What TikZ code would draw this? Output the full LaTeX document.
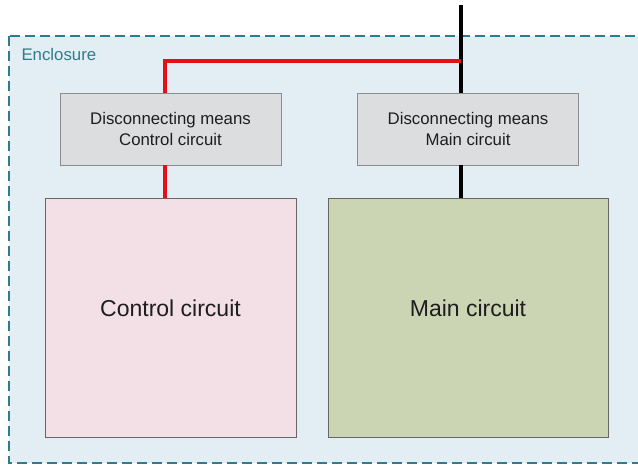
\documentclass[tikz,border=0pt]{standalone}
\usepackage{fontspec}
\setmainfont{Liberation Sans}
\definecolor{encl}{HTML}{2E7D8C}
\definecolor{enclfill}{HTML}{E2EDF4}
\definecolor{dmfill}{HTML}{DCDDDF}
\definecolor{dmline}{HTML}{8A8C8E}
\definecolor{ccfill}{HTML}{F3DFE6}
\definecolor{mcfill}{HTML}{CCD5B3}
\definecolor{wred}{HTML}{E3101A}
\definecolor{txt}{HTML}{1E1E1E}
\begin{document}
\begin{tikzpicture}[x=1pt,y=-1pt,
  dmbox/.style={draw=dmline,fill=dmfill,line width=0.9pt,minimum width=221pt,minimum height=72pt,inner sep=0pt,align=center,text=txt,font=\fontsize{16.8}{20.5}\selectfont},
  circbox/.style={draw=black!60,line width=0.9pt,inner sep=0pt,text=txt,font=\fontsize{23}{27}\selectfont},
  redwire/.style={draw=wred,line width=3.6pt},
  blackwire/.style={draw=black,line width=3.6pt}]
\clip (0,0) rectangle (638,464);
\fill[white] (0,0) rectangle (638,464);
\draw[encl,fill=enclfill,dash pattern=on 10pt off 5pt,line width=1.5pt] (9,36) rectangle (660,463);
\node[anchor=west,text=encl,font=\fontsize{16.8}{20}\selectfont] (enc) at (18,54) {Enclosure};
\node[dmbox] (dmc) at (170.5,129) {Disconnecting means\\Control circuit};
\node[dmbox] (dmm) at (468,129) {Disconnecting means\\Main circuit};
\node[circbox,fill=ccfill,minimum width=251pt,minimum height=239pt] (cc) at (170.5,317.5) {};
\node[circbox,fill=mcfill,minimum width=280pt,minimum height=239pt] (mc) at (468,317.5) {};
\node[text=txt,font=\fontsize{23}{27}\selectfont] (cct) at (170.5,308) {Control circuit};
\node[text=txt,font=\fontsize{23}{27}\selectfont] (mct) at (468,308) {Main circuit};
\coordinate (top) at (461,5);
\coordinate (tap) at (461,61);
\coordinate (bend) at (165,61);
\draw[blackwire] (top) -- (top |- dmm.north);
\draw[blackwire] (top |- dmm.south) -- (top |- mc.north);
\draw[redwire] (tap) -- (bend) -- (bend |- dmc.north);
\draw[redwire] (bend |- dmc.south) -- (bend |- cc.north);
\end{tikzpicture}
\end{document}
